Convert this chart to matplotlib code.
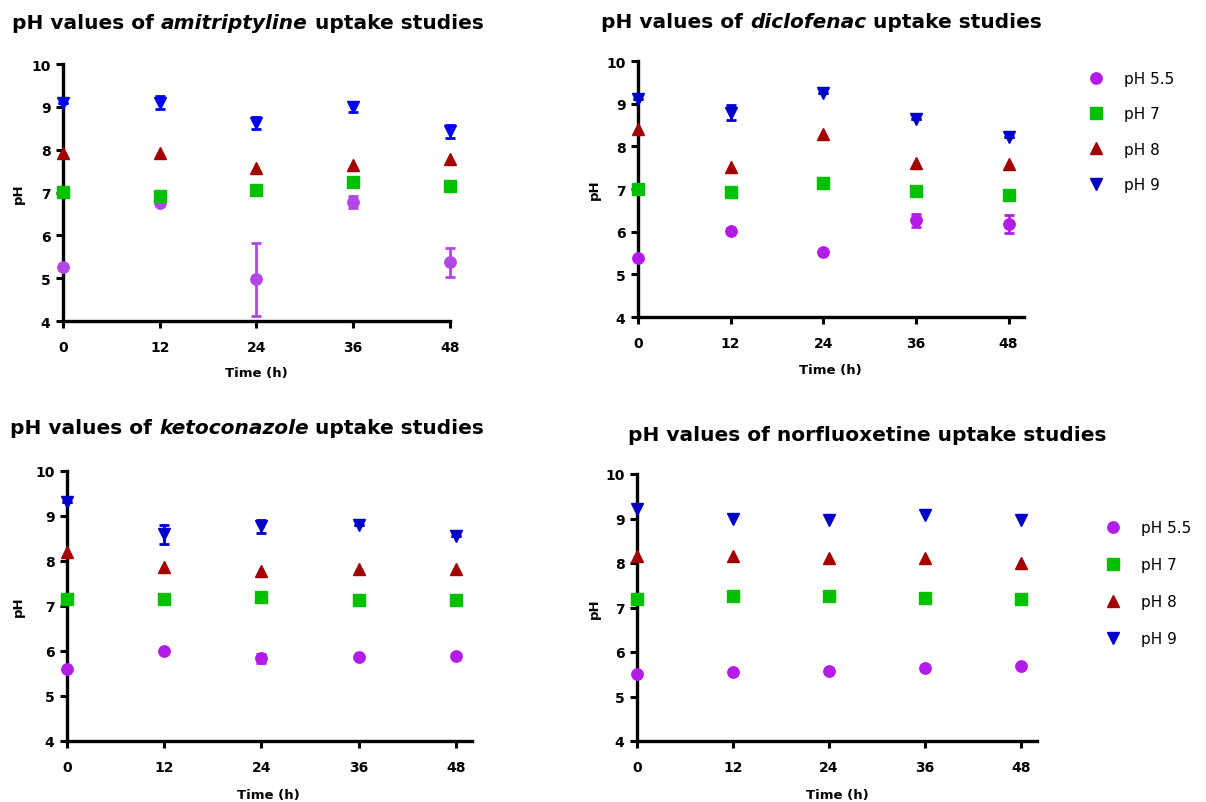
import matplotlib
matplotlib.use("Agg")
import matplotlib.pyplot as plt

W, H = 1206, 803

time_h = [0, 12, 24, 36, 48]
x_ticks = [0, 12, 24, 36, 48]
y_ticks = [4, 5, 6, 7, 8, 9, 10]
series_labels = ["pH 5.5", "pH 7", "pH 8", "pH 9"]

# amitriptyline
ami_55 = [5.25, 6.75, 4.97, 6.78, 5.37]
ami_55_err = [0, 0, 0.86, 0.14, 0.34]
ami_7 = [7.02, 6.92, 7.05, 7.24, 7.15]
ami_8 = [7.92, 7.92, 7.58, 7.64, 7.78]
ami_9 = [9.10, 9.10, 8.63, 9.00, 8.43]
ami_9_err = [0, 0.16, 0.14, 0.12, 0.15]

# diclofenac
dic_55 = [5.39, 6.01, 5.52, 6.27, 6.19]
dic_55_err = [0, 0, 0, 0.15, 0.21]
dic_7 = [7.01, 6.93, 7.13, 6.95, 6.85]
dic_8 = [8.41, 7.52, 8.28, 7.62, 7.58]
dic_9 = [9.12, 8.79, 9.24, 8.65, 8.23]
dic_9_err = [0, 0.17, 0, 0, 0]

# ketoconazole
ket_55 = [5.59, 6.00, 5.84, 5.87, 5.89]
ket_55_err = [0, 0, 0.10, 0, 0]
ket_7 = [7.16, 7.16, 7.21, 7.13, 7.13]
ket_8 = [8.19, 7.87, 7.78, 7.83, 7.83]
ket_9 = [9.30, 8.59, 8.77, 8.80, 8.56]
ket_9_err = [0, 0.22, 0.14, 0, 0]

# norfluoxetine
nor_55 = [5.50, 5.54, 5.57, 5.64, 5.68]
nor_7 = [7.19, 7.25, 7.26, 7.21, 7.19]
nor_8 = [8.16, 8.16, 8.12, 8.12, 8.00]
nor_9 = [9.21, 9.00, 8.97, 9.07, 8.97]

c_purple = "#B31CE6"
c_purple1 = "#B347E6"
c_green = "#00C000"
c_red = "#A30000"
c_blue = "#0000C8"
c_blue1 = "#0000F5"

BOLD = dict(family="DejaVu Sans", weight="bold")

fig = plt.figure(figsize=(W / 100, H / 100), dpi=100)


def rect(l, r, t, b):
    return [l / W, 1 - b / H, (r - l) / W, (b - t) / H]


def make_ax(l, r, t, b, xmax):
    ax = fig.add_axes(rect(l, r, t, b))
    ax.set_xlim(0, xmax)
    ax.set_ylim(4, 10)
    for s in ["top", "right"]:
        ax.spines[s].set_visible(False)
    for s in ["left", "bottom"]:
        ax.spines[s].set_linewidth(2.4)
    ax.set_xticks(x_ticks)
    ax.set_yticks(y_ticks)
    ax.tick_params(axis="both", width=2.2, length=5, direction="out")
    ax.tick_params(axis="y", pad=4)
    ax.tick_params(axis="x", pad=9)
    for lab in ax.get_xticklabels() + ax.get_yticklabels():
        lab.set_fontfamily("DejaVu Sans")
        lab.set_fontweight("bold")
        lab.set_fontsize(10)
    ax.set_xlabel("Time (h)", fontsize=9.5, **BOLD)
    ax.set_ylabel("pH", fontsize=9.5, va="center", **BOLD)
    return ax


def draw(ax, data, purple, blue):
    cols = [purple, c_green, c_red, blue]
    marks = ["o", "s", "^", "v"]
    sizes = [8.2, 8.0, 9.0, 9.0]
    for (y, e), c, m, ms, lab in zip(data, cols, marks, sizes, series_labels):
        if e is not None:
            ax.errorbar(time_h, y, yerr=e, fmt="none", ecolor=c, elinewidth=2,
                        capsize=3.8, capthick=2, clip_on=False, zorder=3)
        ax.plot(time_h, y, ls="none", marker=m, ms=ms, color=c, mec=c,
                clip_on=False, zorder=4, label=lab)


def title(x, y, parts):
    prev = None
    for txt, ital in parts:
        kw = dict(fontsize=14.5, family="DejaVu Sans", weight="bold",
                  style="italic" if ital else "normal")
        if prev is None:
            prev = fig.text(x / W, 1 - y / H, txt, ha="left", va="baseline", **kw)
        else:
            prev = fig.axes[0].annotate(txt, xy=(1, 0), xycoords=prev, ha="left",
                                        va="bottom", annotation_clip=False, **kw)


# Panel 1
ax1 = make_ax(63, 450, 65, 322, 48)
draw(ax1, [(ami_55, ami_55_err), (ami_7, None), (ami_8, None), (ami_9, ami_9_err)],
     c_purple1, c_blue1)
ax1.xaxis.set_label_coords(0.50, -(367 - 322) / 257)
ax1.yaxis.set_label_coords(-(63 - 18) / 387, 0.5)

# Panel 2
ax2 = make_ax(638, 1024, 62, 318, 50)
draw(ax2, [(dic_55, dic_55_err), (dic_7, None), (dic_8, None), (dic_9, dic_9_err)],
     c_purple, c_blue)
ax2.xaxis.set_label_coords((830 - 638) / 386, -(364 - 318) / 256)
ax2.yaxis.set_label_coords(-(638 - 594) / 386, 0.5)

# Panel 3
ax3 = make_ax(67, 472, 472, 742, 50)
draw(ax3, [(ket_55, ket_55_err), (ket_7, None), (ket_8, None), (ket_9, ket_9_err)],
     c_purple, c_blue)
ax3.xaxis.set_label_coords((268 - 67) / 405, -(789 - 742) / 270)
ax3.yaxis.set_label_coords(-(67 - 18) / 405, 0.5)

# Panel 4
ax4 = make_ax(637, 1037, 475, 742, 50)
draw(ax4, [(nor_55, None), (nor_7, None), (nor_8, None), (nor_9, None)],
     c_purple, c_blue)
ax4.xaxis.set_label_coords((837 - 637) / 400, -(789 - 742) / 267)
ax4.yaxis.set_label_coords(-(637 - 594) / 400, 0.5)

title(12, 29, [("pH values of ", False), ("amitriptyline", True), (" uptake studies", False)])
title(601, 28, [("pH values of ", False), ("diclofenac", True), (" uptake studies", False)])
title(10, 434, [("pH values of ", False), ("ketoconazole", True), (" uptake studies", False)])
title(628, 441, [("pH values of norfluoxetine uptake studies", False)])


def legend(ax, xm, ytop, spacing):
    h, l = ax.get_legend_handles_labels()
    fs = 11
    leg = ax.legend(h, l, loc="upper left", frameon=False,
                    prop=dict(family="DejaVu Sans", size=fs),
                    handlelength=1.0, handletextpad=1.3, labelspacing=spacing,
                    borderpad=0, borderaxespad=0,
                    bbox_to_anchor=((xm - 7.5) / W, 1 - ytop / H),
                    bbox_transform=fig.transFigure)
    return leg


legend(ax2, 1096, 72, 1.33)
legend(ax4, 1113, 521, 1.45)

fig.savefig("out.png", dpi=100)
